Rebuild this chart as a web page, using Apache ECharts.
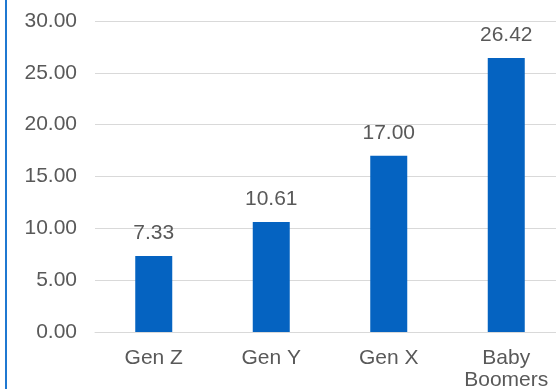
<!DOCTYPE html>
<html>
<head>
<meta charset="utf-8">
<script src="https://cdn.jsdelivr.net/npm/echarts@6/dist/echarts.min.js"></script>
<style>
  html, body { margin: 0; padding: 0; background: #fff; }
  #main { width: 556px; height: 389px; }
</style>
</head>
<body>
<div id="main"></div>
<script>
var categories = ['Gen Z', 'Gen Y', 'Gen X', 'Baby\nBoomers'];
var values = [7.33, 10.61, 17.00, 26.42];

var chart = echarts.init(document.getElementById('main'));
var option = {
    backgroundColor: '#fff',
    animation: false,
    graphic: [{
        type: 'line',
        shape: { x1: 6, y1: 0, x2: 6, y2: 389 },
        style: { stroke: '#1f78d1', lineWidth: 2 }
    }],
    grid: { left: 95, right: -9, top: 21, bottom: 57, outerBoundsMode: 'none' },
    xAxis: {
        type: 'category',
        data: categories,
        axisTick: { show: false },
        axisLine: { lineStyle: { color: '#d9d9d9', width: 1 } },
        axisLabel: {
            color: '#595959', fontSize: 21, fontFamily: 'Liberation Sans, Arial',
            margin: 15, lineHeight: 22
        }
    },
    yAxis: {
        type: 'value',
        min: 0, max: 30, interval: 5,
        axisLine: { show: false },
        axisTick: { show: false },
        splitLine: { lineStyle: { color: '#d9d9d9', width: 1 } },
        axisLabel: {
            color: '#595959', fontSize: 21, fontFamily: 'Liberation Sans, Arial',
            margin: 18,
            formatter: function (v) { return v.toFixed(2); }
        }
    },
    series: [{
        type: 'bar',
        data: values,
        barWidth: 37,
        itemStyle: { color: '#0563c1' },
        label: {
            show: true, position: 'top', distance: 12,
            color: '#595959', fontSize: 21, fontFamily: 'Liberation Sans, Arial',
            formatter: function (p) { return p.value.toFixed(2); }
        }
    }]
};
chart.setOption(option);
</script>
</body>
</html>
